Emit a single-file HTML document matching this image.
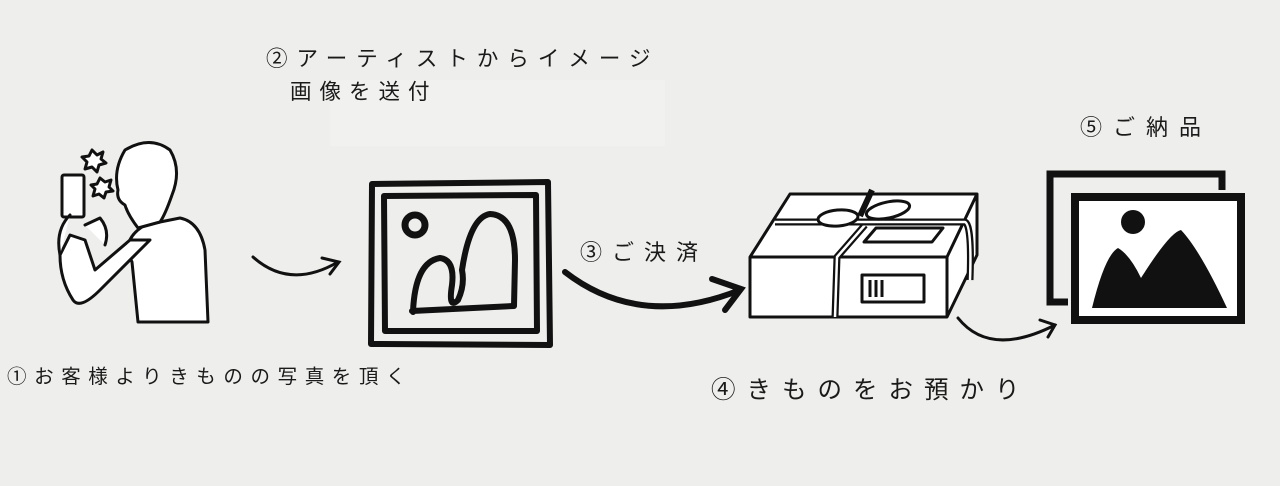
<!DOCTYPE html>
<html><head><meta charset="utf-8"><style>
html,body{margin:0;padding:0;background:#eeeeec;}
svg{display:block}
text{font-family:"Liberation Sans","Noto Sans CJK JP",sans-serif;fill:#1a1a1a}
</style></head><body>
<svg width="1280" height="486" viewBox="0 0 1280 486" xmlns="http://www.w3.org/2000/svg">
<rect width="1280" height="486" fill="#eeeeec"/>
<rect x="330" y="80" width="335" height="66" fill="#f1f1ef"/>
<!-- texts -->
<text x="266" y="66" font-size="21.5" letter-spacing="9">②アーティストからイメージ</text>
<text x="290" y="99" font-size="21.5" letter-spacing="8">画像を送付</text>
<text x="7" y="383" font-size="19.5" letter-spacing="7.6">①お客様よりきものの写真を頂く</text>
<text x="580" y="260" font-size="22" letter-spacing="10">③ご決済</text>
<text x="711" y="398" font-size="24.5" letter-spacing="11">④きものをお預かり</text>
<text x="1080" y="135" font-size="22" letter-spacing="11">⑤ご納品</text>

<!-- person -->
<g stroke="#111" stroke-width="3" fill="#fff" stroke-linejoin="round" stroke-linecap="round">
<path d="M138 322 L132 262 Q120 240 145 225 L180 218 Q200 222 205 250 L208 322 Z"/>
<path d="M125 150 Q150 135 170 150 Q182 170 172 195 Q165 215 160 222 L138 228 Q128 215 125 205 Q116 200 118 190 Q113 170 125 150 Z"/>
<path d="M150 240 Q120 270 100 290 Q80 310 73 300 Q60 280 60 255 L70 235 L85 240 L95 270 L130 240 Z"/>
<rect x="62" y="175" width="22" height="42" rx="2"/>
<path d="M70 215 Q55 230 60 255 M85 225 L100 218 Q110 230 105 245"/>
<polygon points="92,150 97,155 103,152 101,159 106,163 99,165 97,172 92,167 85,169 87,162 82,157 89,156" />
<polygon points="100,178 105,182 111,180 109,187 113,191 106,192 104,198 99,194 93,196 95,189 91,185 97,184"/>
</g>

<!-- arrow1 -->
<g fill="none" stroke="#111" stroke-width="3" stroke-linecap="round">
<path d="M253 257 Q290 290 338 262"/>
<path d="M322 258 L339 262 L330 274"/>
</g>

<!-- frame -->
<g fill="none" stroke="#111" stroke-linecap="round" stroke-linejoin="round">
<path d="M372 184 L548 182 L550 345 L371 344 Z" stroke-width="6"/>
<path d="M384 196 L536 195 L537 331 L385 331 Z" stroke-width="6"/>
<circle cx="415" cy="225" r="10" stroke-width="7"/>
<path d="M413 312 Q415 262 440 258 Q455 260 452 285 Q448 310 458 300 Q465 285 462 270 Q470 217 490 214 Q515 215 515 260 L514 306 L412 311" stroke-width="6"/>
</g>

<!-- arrow2 -->
<g fill="none" stroke="#111" stroke-width="6" stroke-linecap="round">
<path d="M565 272 Q640 330 740 290"/>
<path d="M712 279 L741 289 L725 310"/>
</g>

<!-- box -->
<g fill="#fff" stroke="#111" stroke-width="3" stroke-linejoin="round">
<path d="M750 257 L790 194 L977 194 L977 255 L947 317 L750 317 Z"/>
<path d="M750 257 L947 257 L977 194 M947 257 L947 317" fill="none"/>
<path d="M864 242 L876 228 L943 228 L932 242 Z"/>
<rect x="862" y="275" width="62" height="27"/>
<path d="M870 280 L870 297 M876 280 L876 297 M882 280 L882 297" fill="none"/>
<path d="M835 317 L837 257 L865 225" fill="none" stroke-width="7"/>
<path d="M835 317 L837 257 L865 225" fill="none" stroke="#fff" stroke-width="2.5"/>
<path d="M775 222 L965 222 Q972 225 970 280" fill="none" stroke-width="7"/>
<path d="M775 222 L965 222 Q972 225 970 280" fill="none" stroke="#fff" stroke-width="2.5"/>
<ellipse cx="838" cy="218" rx="20" ry="8" transform="rotate(-5 838 218)"/>
<ellipse cx="888" cy="210" rx="22" ry="8" transform="rotate(-12 888 210)"/>
<path d="M860 216 L872 190" fill="none" stroke-width="6"/>
</g>

<!-- arrow3 -->
<g fill="none" stroke="#111" stroke-width="3" stroke-linecap="round">
<path d="M958 318 Q990 358 1055 325"/>
<path d="M1040 320 L1055 325 L1048 337"/>
</g>

<!-- image icon -->
<rect x="1050" y="174" width="172" height="128" fill="none" stroke="#111" stroke-width="7"/>
<rect x="1068" y="190" width="180" height="136" fill="#eeeeec"/>
<rect x="1075" y="197" width="166" height="123" fill="#fff" stroke="#111" stroke-width="8"/>
<circle cx="1133" cy="222" r="12" fill="#111"/>
<path d="M1092 308 Q1105 255 1118 248 Q1130 255 1141 278 Q1170 232 1181 230 Q1200 250 1227 308 Z" fill="#111"/>
</svg>
</body></html>
